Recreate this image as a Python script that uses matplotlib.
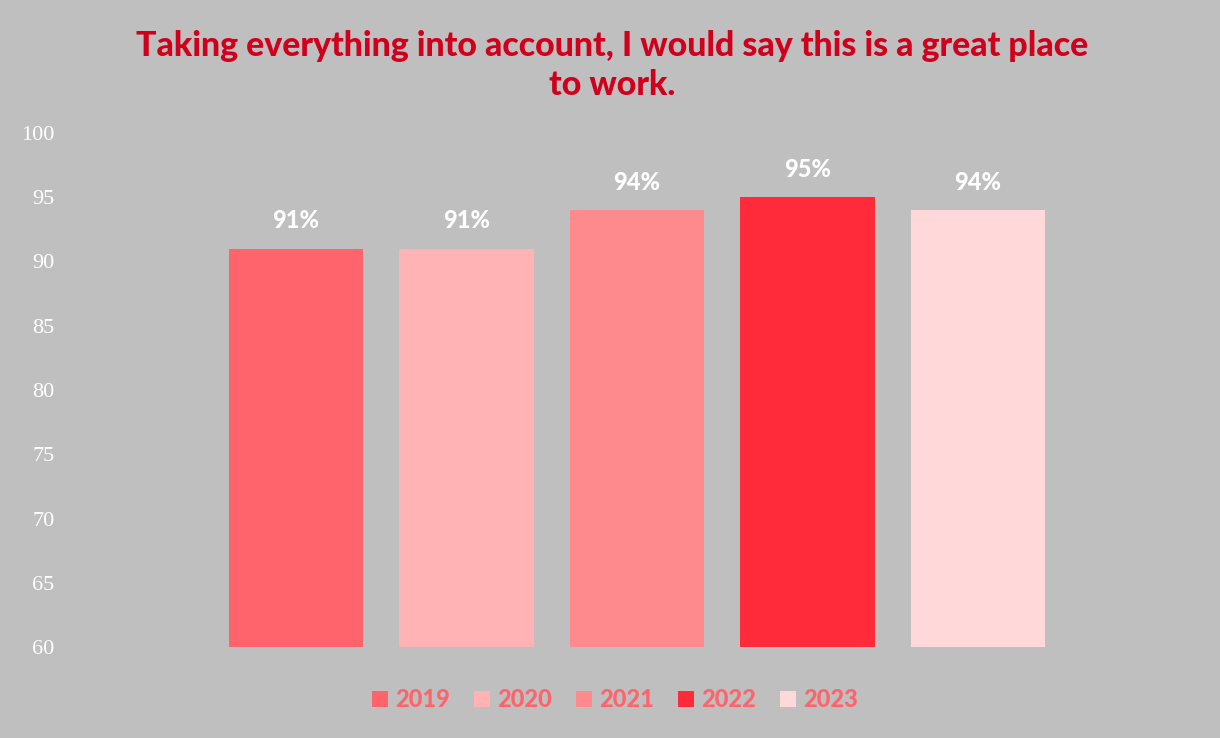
import matplotlib.pyplot as plt
from matplotlib.patches import Patch

# Survey results by year
years = ['2019', '2020', '2021', '2022', '2023']
scores = [91, 91, 94, 95, 94]
colors = ['#FF646C', '#FFB3B5', '#FF8A8D', '#FF2A3A', '#FFD9D9']

title = 'Taking everything into account, I would say this is a great place\nto work.'

bg = '#BFBFBF'
fig = plt.figure(figsize=(12.2, 7.38), dpi=100, facecolor=bg)
ax = fig.add_axes([70 / 1220, 0.1233, 1130 / 1220, 0.6965])
ax.set_facecolor(bg)

x = list(range(len(years)))
bars = ax.bar(x, scores, width=0.79, color=colors, bottom=0)

ax.set_ylim(60, 100)
ax.set_xlim(-1.325, 5.302)
ax.set_yticks(range(60, 101, 5))
ax.set_xticks([])
for s in ax.spines.values():
    s.set_visible(False)
ax.tick_params(axis='y', length=0, pad=11, labelsize=16, labelcolor='white')
for lbl in ax.get_yticklabels():
    lbl.set_family('Liberation Serif')

# value labels above bars
for xi, v in zip(x, scores):
    ax.annotate(f'{v}%', (xi, v), xytext=(0, 20), textcoords='offset points',
                ha='center', va='center', color='white', fontsize=17,
                fontweight='black', family='Lato')

fig.text(0.502, 0.911, title, ha='center', va='center', color='#D0001C',
         fontsize=24.4, fontweight='black', family='Lato', linespacing=1.28)

handles = [Patch(facecolor=c, label=y) for c, y in zip(colors, years)]
leg = fig.legend(handles=handles, loc='center', bbox_to_anchor=(0.504, 0.052),
                 ncol=5, frameon=False, handlelength=0.7, handleheight=0.7,
                 handletextpad=0.3, columnspacing=1.0,
                 prop={'family': 'Lato', 'weight': 'black', 'size': 17})
for t in leg.get_texts():
    t.set_color('#FF646C')

fig.savefig('out.png', dpi=100, facecolor=bg, edgecolor='white')
